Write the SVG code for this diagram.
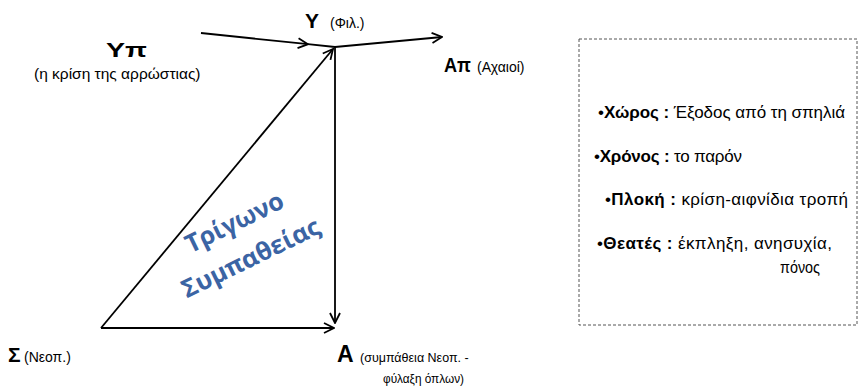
<svg xmlns="http://www.w3.org/2000/svg" width="859" height="389" viewBox="0 0 859 389">
<style>
.big{font-family:"Liberation Sans",Arial,sans-serif;font-weight:bold;font-size:21px;fill:#000}
.sm{font-family:"Liberation Sans",Arial,sans-serif;font-size:14px;fill:#000}
.tri{font-family:"Open Sans","Liberation Sans",sans-serif;font-weight:bold;font-size:25px;fill:#3b64a4}
.box{font-family:"Liberation Sans",Arial,sans-serif;font-size:17px;fill:#000}
.b{font-weight:bold}
.ln{stroke:#000;stroke-width:1.8;fill:none}
</style>
<defs>
<marker id="ah" viewBox="0 0 12 12" refX="11" refY="6" markerWidth="12" markerHeight="12" markerUnits="userSpaceOnUse" orient="auto">
<path d="M1,1 L11,6 L1,11" fill="none" stroke="#000" stroke-width="1.8"/>
</marker>
</defs>
<rect width="859" height="389" fill="#fff"/>
<g id="connectors">
<line class="ln" x1="201" y1="33" x2="308" y2="44.2" marker-end="url(#ah)"/>
<line class="ln" x1="308" y1="44.2" x2="335" y2="47"/>
<line class="ln" x1="335" y1="47" x2="442" y2="37" marker-end="url(#ah)"/>
<line class="ln" x1="335" y1="47" x2="335" y2="323" marker-end="url(#ah)"/>
<line class="ln" x1="101" y1="328" x2="333" y2="49" marker-end="url(#ah)"/>
<line class="ln" x1="101" y1="328" x2="334" y2="328" marker-end="url(#ah)"/>
</g>
<g id="node-Yp">
<text class="big" x="106" y="57" textLength="41" lengthAdjust="spacingAndGlyphs">Υπ</text>
<text class="sm" x="34" y="79" style="font-size:15.5px">(η κρίση της αρρώστιας)</text>
</g>
<g id="node-Y">
<text class="big" x="305" y="28">Υ</text>
<text class="sm" x="330" y="28">(Φιλ.)</text>
</g>
<g id="node-Ap">
<text class="big" x="444" y="72" textLength="27" lengthAdjust="spacingAndGlyphs">Απ</text>
<text class="sm" x="477" y="72">(Αχαιοί)</text>
</g>
<g id="node-S">
<text class="big" x="8" y="362">Σ</text>
<text class="sm" x="24" y="362">(Νεοπ.)</text>
</g>
<g id="node-A">
<text class="big" x="337" y="362" style="font-size:23px">Α</text>
<text class="sm" x="360" y="362" style="font-size:12.5px">(συμπάθεια Νεοπ. -</text>
<text class="sm" x="383" y="383" style="font-size:12.5px" textLength="81" lengthAdjust="spacingAndGlyphs">φύλαξη όπλων)</text>
</g>
<g id="triangle-label" transform="translate(243,240) rotate(-26)">
<text class="tri" x="0" y="-11" text-anchor="middle">Τρίγωνο</text>
<text class="tri" x="-1" y="28" text-anchor="middle">Συμπαθείας</text>
</g>
<g id="info-box">
<rect x="579" y="39" width="278" height="286" fill="none" stroke="#555" stroke-width="1" stroke-dasharray="3,2"/>
<text class="box" x="598" y="118" textLength="247">•<tspan class="b">Χώρος :</tspan> Έξοδος από τη σπηλιά</text>
<text class="box" x="594" y="162" textLength="148">•<tspan class="b">Χρόνος :</tspan> το παρόν</text>
<text class="box" x="605" y="205" textLength="243">•<tspan class="b">Πλοκή :</tspan> κρίση-αιφνίδια τροπή</text>
<text class="box" x="597" y="249" textLength="235">•<tspan class="b">Θεατές :</tspan> έκπληξη, ανησυχία,</text>
<text class="box" x="780" y="273" textLength="40" lengthAdjust="spacingAndGlyphs">πόνος</text>
</g>
</svg>
